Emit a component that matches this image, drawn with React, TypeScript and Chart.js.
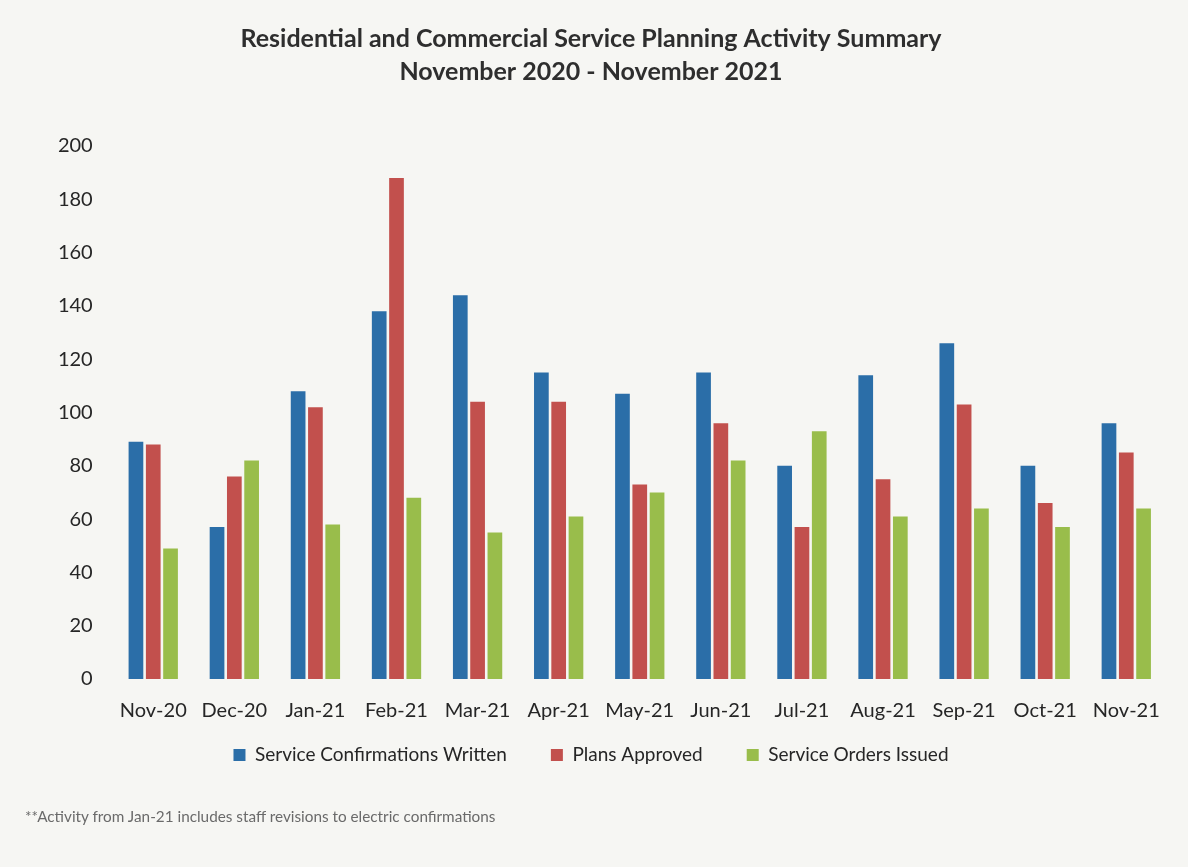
import React, { useEffect, useRef } from "react";
import { Chart, registerables } from "chart.js";

Chart.register(...registerables);

const categories = ["Nov-20", "Dec-20", "Jan-21", "Feb-21", "Mar-21", "Apr-21", "May-21", "Jun-21", "Jul-21", "Aug-21", "Sep-21", "Oct-21", "Nov-21"];
const confirmationsWritten = [89, 57, 108, 138, 144, 115, 107, 115, 80, 114, 126, 80, 96];
const plansApproved = [88, 76, 102, 188, 104, 104, 73, 96, 57, 75, 103, 66, 85];
const ordersIssued = [49, 82, 58, 68, 55, 61, 70, 82, 93, 61, 64, 57, 64];
const seriesNames = ["Service Confirmations Written", "Plans Approved", "Service Orders Issued"];
const seriesColors = ["#2b6ea8", "#c2504d", "#99bd4b"];
const titleLines = ["Residential and Commercial Service Planning Activity Summary", "November 2020 - November 2021"];
const footnote = "**Activity from Jan-21 includes staff revisions to electric confirmations";

const FONT = "Lato, 'Open Sans', sans-serif";
const LEGEND_SHIFT = -41.5;

const legendShift = {
  id: "legendShift",
  afterInit(chart: any) {
    const lg = chart.legend;
    if (!lg || lg.__shifted) return;
    const origDraw = lg.draw;
    lg.draw = function (...args: any[]) {
      const ctx = this.ctx;
      ctx.save();
      ctx.translate(0, LEGEND_SHIFT);
      origDraw.apply(this, args);
      ctx.restore();
    };
    lg.__shifted = true;
  },
};

export default function App() {
  const ref = useRef<HTMLCanvasElement | null>(null);

  useEffect(() => {
    document.body.style.background = "#f6f6f3";
    const canvas = ref.current;
    if (!canvas) return;
    const chart = new Chart(canvas, {
      type: "bar",
      data: {
        labels: categories,
        datasets: [confirmationsWritten, plansApproved, ordersIssued].map((d, i) => ({
          label: seriesNames[i],
          data: d,
          backgroundColor: seriesColors[i],
          borderWidth: 0,
          categoryPercentage: 0.64,
          barPercentage: 0.85,
        })),
      },
      plugins: [legendShift],
      options: {
        animation: false,
        responsive: false,
        maintainAspectRatio: false,
        layout: { padding: { left: 0, right: 6, top: 0, bottom: 43 } },
        plugins: {
          title: {
            display: true,
            text: titleLines,
            color: "#2e2e2e",
            font: { family: FONT, size: 25, weight: "bold", lineHeight: 1.32 },
            padding: { top: 14.5, bottom: 57.5 },
          },
          legend: {
            position: "bottom",
            labels: {
              color: "#262626",
              font: { family: FONT, size: 19 },
              boxWidth: 12,
              boxHeight: 12,
              padding: 44,
            },
          },
          tooltip: { enabled: false },
        },
        scales: {
          x: {
            grid: { display: false, drawTicks: false },
            border: { display: false },
            ticks: { color: "#262626", font: { family: FONT, size: 20 }, padding: 20, maxRotation: 0 },
          },
          y: {
            min: 0,
            max: 200,
            grid: { display: false, drawTicks: false },
            border: { display: false },
            ticks: { stepSize: 20, color: "#262626", font: { family: FONT, size: 20 }, padding: 20 },
            afterFit: (scale: any) => {
              scale.width = 104.7;
            },
          },
        },
      },
    });
    return () => chart.destroy();
  }, []);

  return (
    <div style={{ position: "relative", width: 1172, height: 851 }}>
      <canvas ref={ref} width={1172} height={851} style={{ display: "block" }} />
      <div
        style={{
          position: "absolute",
          left: 17,
          top: 799,
          fontFamily: FONT,
          fontSize: 15.3,
          color: "#6a6a6a",
          whiteSpace: "nowrap",
        }}
      >
        {footnote}
      </div>
    </div>
  );
}
